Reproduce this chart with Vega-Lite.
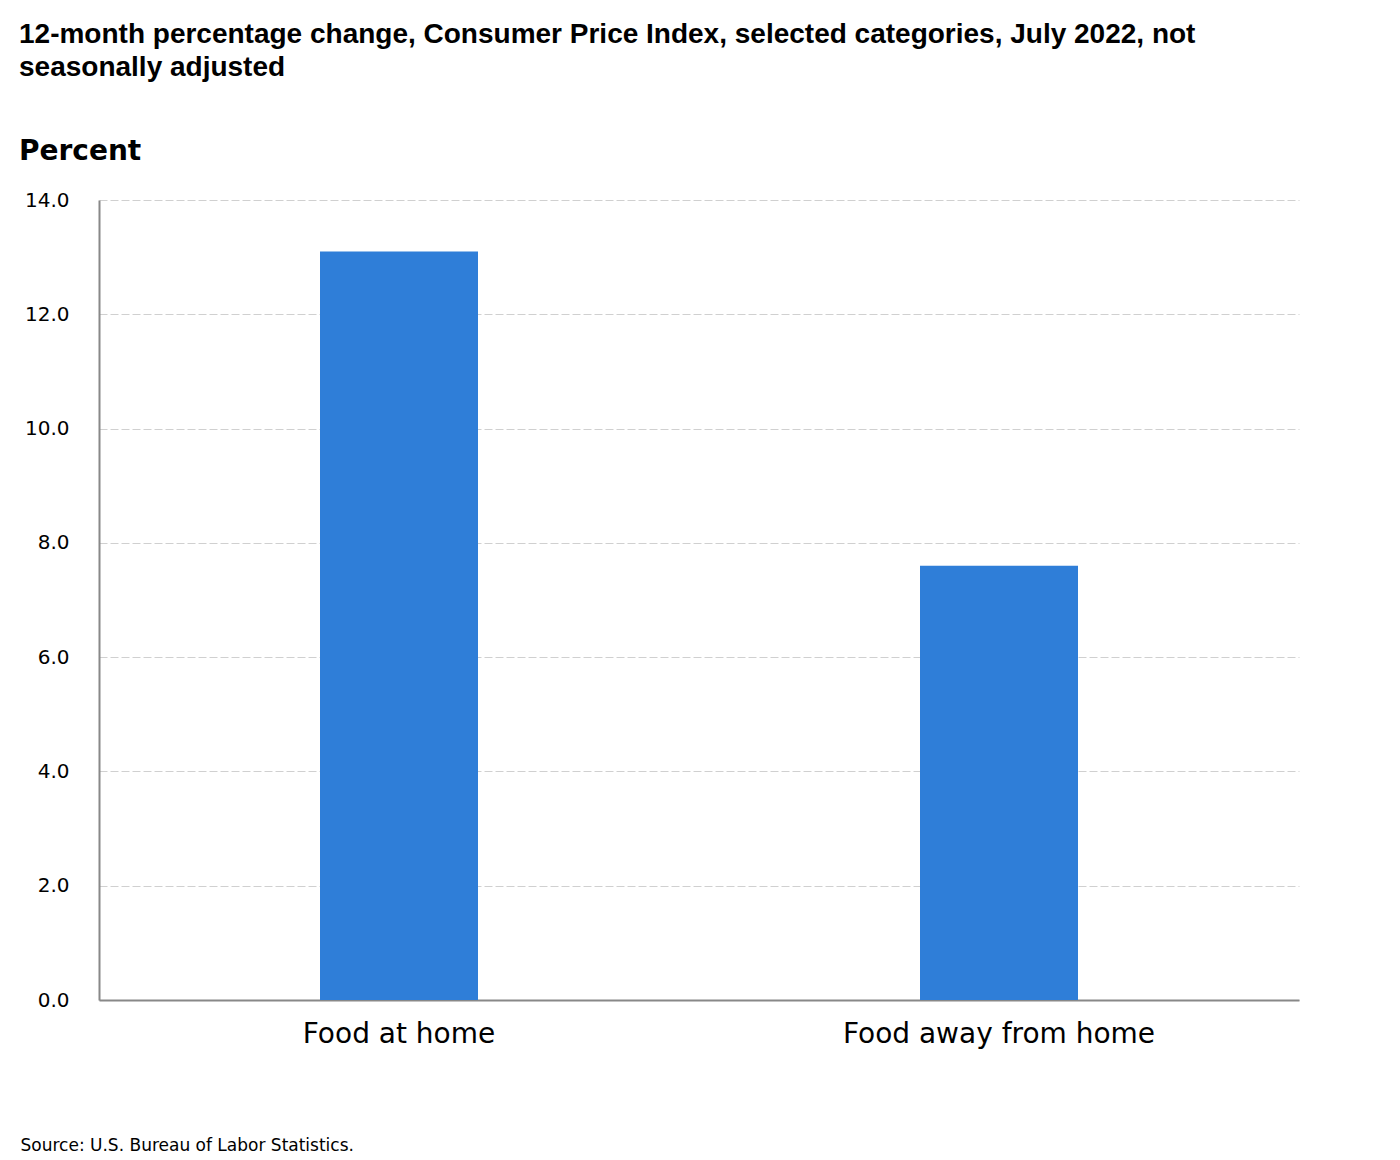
{
  "$schema": "https://vega.github.io/schema/vega-lite/v6.json",
  "width": 1200,
  "height": 800,
  "autosize": {"type": "none"},
  "padding": {"left": 99, "top": 200, "right": 101, "bottom": 160},
  "background": "white",
  "title": {
    "text": ["12-month percentage change, Consumer Price Index, selected categories, July 2022, not", "seasonally adjusted"],
    "subtitle": "Percent",
    "anchor": "start",
    "frame": "group",
    "dx": -80,
    "font": "Liberation Sans",
    "fontSize": 28,
    "fontWeight": "bold",
    "lineHeight": 33,
    "color": "#000000",
    "subtitleFont": "DejaVu Sans",
    "subtitleFontSize": 28,
    "subtitleFontWeight": "bold",
    "subtitleColor": "#000000",
    "subtitlePadding": 56,
    "offset": 24
  },
  "data": {
    "values": [
      {"category": "Food at home", "value": 13.1},
      {"category": "Food away from home", "value": 7.6}
    ]
  },
  "mark": {"type": "bar", "width": 158, "color": "#2f7ed8"},
  "encoding": {
    "x": {
      "field": "category",
      "type": "nominal",
      "sort": null,
      "scale": {"paddingInner": 0, "paddingOuter": 0},
      "axis": {
        "title": "Source: U.S. Bureau of Labor Statistics.",
        "titleFont": "DejaVu Sans",
        "titleFontSize": 17,
        "titleFontWeight": "normal",
        "titleColor": "#000000",
        "titleAnchor": "start",
        "titleAlign": "left",
        "titleBaseline": "alphabetic",
        "titleX": -79,
        "titleY": 150,
        "labelAngle": 0,
        "labelFont": "DejaVu Sans",
        "labelFontSize": 28,
        "labelLimit": 0,
        "labelColor": "#000000",
        "labelPadding": 20,
        "ticks": false,
        "domainColor": "#888888",
        "domainWidth": 2,
        "grid": false
      }
    },
    "y": {
      "field": "value",
      "type": "quantitative",
      "scale": {"domain": [0, 14], "nice": false},
      "axis": {
        "title": null,
        "values": [0, 2, 4, 6, 8, 10, 12, 14],
        "format": ".1f",
        "labelFont": "DejaVu Sans",
        "labelFontSize": 20,
        "labelColor": "#000000",
        "labelPadding": 30,
        "ticks": false,
        "domainColor": "#888888",
        "domainWidth": 2,
        "grid": true,
        "gridColor": "#d0d0d0",
        "gridDash": [8, 3],
        "gridWidth": 1
      }
    }
  },
  "config": {"view": {"stroke": null}}
}
